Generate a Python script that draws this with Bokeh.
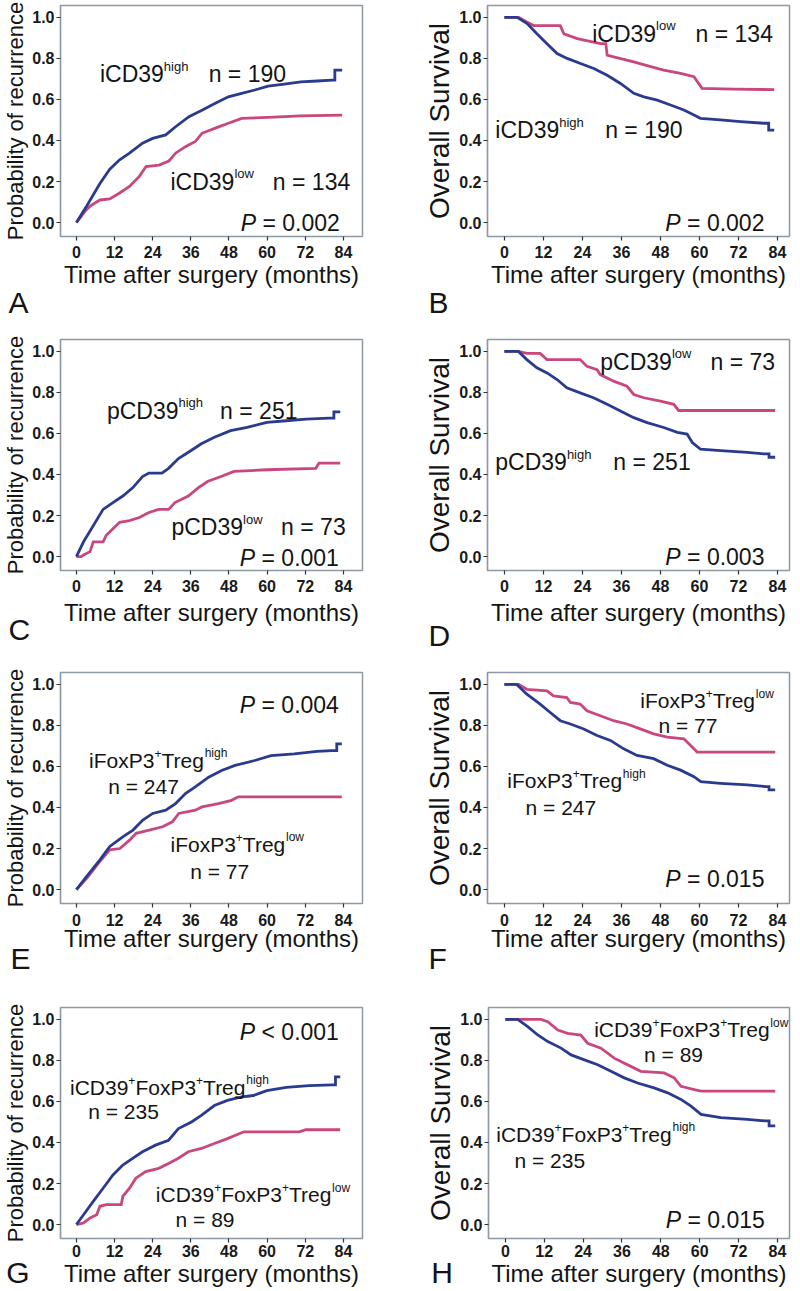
from bokeh.plotting import figure
from bokeh.models import Label, Title, FixedTicker, NumeralTickFormatter, Range1d
from bokeh.layouts import column, row
from bokeh.embed import file_html
from bokeh.resources import INLINE

FONT = "Liberation Sans"
BLUE = "#2a3b8f"
PINK = "#c9477e"

XTICKS = [0, 12, 24, 36, 48, 60, 72, 84]
YTICKS = [0.0, 0.2, 0.4, 0.6, 0.8, 1.0]
XLABEL = "Time after surgery (months)"
YLABEL_REC = "Probability of recurrence"
YLABEL_OS = "Overall Survival"

# ---- Panel A: recurrence, iCD39 ----
A_high_t = [0, 3.2, 7.4, 10.5, 13.6, 16.7, 20.8, 24, 28.1, 31.2, 35.4, 39.5, 43.7, 47.8, 52, 56.1, 60.3, 65.4, 70.6, 75.8, 80.5, 81.3, 81.3, 83.6]
A_high_v = [0, 0.08, 0.19, 0.26, 0.306, 0.338, 0.387, 0.41, 0.427, 0.467, 0.516, 0.548, 0.581, 0.613, 0.63, 0.646, 0.665, 0.675, 0.686, 0.69, 0.694, 0.694, 0.743, 0.743]
A_low_t = [0, 1.5, 3, 4.3, 7.4, 10.5, 13.6, 16.7, 19.8, 21.9, 26, 29.1, 31.2, 34.3, 37.4, 39.5, 43.7, 47.8, 52, 60.3, 70.6, 83.6]
A_low_v = [0, 0.03, 0.06, 0.08, 0.11, 0.115, 0.144, 0.176, 0.225, 0.273, 0.28, 0.30, 0.338, 0.37, 0.395, 0.435, 0.46, 0.484, 0.508, 0.513, 0.52, 0.524]

# ---- Panel B: overall survival, iCD39 ----
B_high_t = [0, 3.9, 7, 10, 13.1, 16.2, 19.3, 23.4, 27.5, 31.6, 35.7, 39.8, 42.9, 47, 51.1, 55.2, 58.3, 60.3, 66.5, 72.6, 79.8, 81.3, 81.3, 83]
B_high_v = [1, 1, 0.97, 0.92, 0.872, 0.824, 0.80, 0.775, 0.751, 0.718, 0.678, 0.63, 0.613, 0.597, 0.573, 0.549, 0.524, 0.508, 0.50, 0.492, 0.484, 0.484, 0.451, 0.451]
B_low_t = [0, 4.4, 7, 9, 17.2, 18.3, 22.4, 29.5, 31.2, 31.6, 33.6, 39.8, 45, 49, 54.2, 58.3, 60.8, 70.5, 83]
B_low_v = [1, 1, 0.977, 0.96, 0.96, 0.92, 0.897, 0.872, 0.872, 0.816, 0.808, 0.783, 0.76, 0.743, 0.727, 0.711, 0.654, 0.65, 0.648]

# ---- Panel C: recurrence, pCD39 ----
C_high_t = [0, 2.25, 5.3, 8.4, 11.5, 14.6, 17.7, 20.8, 22.8, 26.9, 29, 32.1, 36.2, 39.3, 43.4, 48.5, 53.7, 59.9, 66, 72.2, 79.4, 81, 81, 83]
C_high_v = [0, 0.072, 0.15, 0.23, 0.263, 0.295, 0.335, 0.39, 0.407, 0.407, 0.43, 0.478, 0.518, 0.55, 0.582, 0.614, 0.63, 0.654, 0.662, 0.67, 0.675, 0.675, 0.705, 0.705]
C_low_t = [0, 1.5, 2.25, 4.3, 5.3, 8.4, 9.4, 11.5, 13.6, 16.7, 19.8, 22.8, 25.9, 29, 31, 35.2, 38.3, 41.4, 45.5, 49.6, 59.9, 75.3, 76.3, 83]
C_low_v = [0, 0, 0.008, 0.024, 0.072, 0.072, 0.104, 0.136, 0.167, 0.175, 0.19, 0.215, 0.23, 0.23, 0.263, 0.295, 0.335, 0.367, 0.39, 0.415, 0.423, 0.43, 0.455, 0.455]

# ---- Panel D: overall survival, pCD39 ----
D_high_t = [0, 4.3, 6.9, 10, 13.1, 16.2, 19.2, 23.3, 27.4, 31.6, 35.7, 39.8, 43.9, 49, 53.2, 56.2, 57.8, 60.3, 66.5, 74.7, 79.9, 81.4, 81.4, 83.3]
D_high_v = [1, 1, 0.96, 0.92, 0.895, 0.863, 0.823, 0.798, 0.774, 0.742, 0.71, 0.677, 0.653, 0.629, 0.605, 0.597, 0.556, 0.524, 0.516, 0.508, 0.50, 0.50, 0.484, 0.484]
D_low_t = [0, 4.3, 6.9, 11, 13.1, 23.3, 25.4, 28.5, 29.5, 33.6, 37.7, 39.8, 42.9, 48, 52.1, 53.6, 83.3]
D_low_v = [1, 1, 0.99, 0.99, 0.96, 0.96, 0.927, 0.911, 0.887, 0.855, 0.83, 0.79, 0.774, 0.758, 0.742, 0.712, 0.712]

# ---- Panel E: recurrence, iFoxP3+Treg ----
E_high_t = [0, 3.3, 7.4, 10.5, 14.7, 17.8, 20.9, 24, 28.1, 31.2, 34.3, 37.4, 41.6, 45.7, 49.9, 56.1, 61.2, 68.5, 75.7, 80.4, 81.9, 81.9, 83.5]
E_high_v = [0, 0.065, 0.145, 0.21, 0.258, 0.29, 0.339, 0.371, 0.387, 0.419, 0.468, 0.50, 0.548, 0.58, 0.605, 0.629, 0.653, 0.661, 0.674, 0.677, 0.677, 0.71, 0.71]
E_low_t = [0, 3.3, 7.4, 10.5, 13.7, 16.8, 18.8, 22.9, 27.1, 30.2, 32.2, 37.4, 39.5, 44.7, 48.8, 50.9, 83.5]
E_low_v = [0, 0.056, 0.137, 0.194, 0.20, 0.242, 0.274, 0.29, 0.306, 0.33, 0.371, 0.387, 0.403, 0.419, 0.435, 0.452, 0.452]

# ---- Panel F: overall survival, iFoxP3+Treg ----
F_high_t = [0, 3.8, 6.9, 11, 14.1, 17.2, 20.3, 24.4, 28.5, 32.6, 36.7, 40.8, 45.9, 50.1, 54.2, 58.3, 60.4, 66.5, 74.7, 80.4, 81.4, 81.4, 83.3]
F_high_v = [1, 1, 0.952, 0.904, 0.863, 0.823, 0.807, 0.783, 0.751, 0.727, 0.686, 0.654, 0.638, 0.606, 0.582, 0.55, 0.526, 0.518, 0.51, 0.502, 0.502, 0.486, 0.486]
F_low_t = [0, 4.4, 6.9, 13.1, 15.1, 19.2, 20.3, 23.3, 25.4, 29.5, 33.6, 37.7, 41.8, 45.9, 50.1, 55.2, 57.2, 59.3, 83.3]
F_low_v = [1, 1, 0.976, 0.968, 0.944, 0.936, 0.912, 0.904, 0.871, 0.847, 0.823, 0.807, 0.783, 0.759, 0.743, 0.735, 0.703, 0.67, 0.67]

# ---- Panel G: recurrence, iCD39+FoxP3+Treg ----
G_high_t = [0, 2.25, 5.3, 8.4, 11.5, 14.6, 17.7, 20.8, 24.9, 29, 32.1, 36.2, 39.3, 43.4, 47.5, 51.6, 55.7, 59.9, 66, 73.2, 80.4, 81.5, 81.5, 83]
G_high_v = [0, 0.048, 0.113, 0.177, 0.242, 0.29, 0.323, 0.355, 0.387, 0.411, 0.468, 0.50, 0.532, 0.58, 0.605, 0.621, 0.629, 0.653, 0.669, 0.677, 0.681, 0.681, 0.72, 0.72]
G_low_t = [0, 2.25, 4.3, 6.4, 7.4, 9.4, 14.1, 14.6, 16.7, 18.7, 21.8, 25.9, 29, 32.1, 35.2, 39.3, 43.4, 47.5, 52.7, 70.1, 72.2, 83]
G_low_v = [0, 0.008, 0.032, 0.048, 0.089, 0.097, 0.097, 0.137, 0.177, 0.226, 0.258, 0.274, 0.298, 0.323, 0.355, 0.371, 0.395, 0.419, 0.452, 0.452, 0.462, 0.462]

# ---- Panel H: overall survival, iCD39+FoxP3+Treg ----
H_high_t = [0, 3.8, 6.9, 10, 13.1, 17.2, 20.3, 24.4, 28.5, 32.6, 36.7, 40.8, 45.9, 50.1, 54.2, 57.3, 60.4, 66.5, 74.7, 80.4, 81.4, 81.4, 83.3]
H_high_v = [1, 1, 0.965, 0.924, 0.892, 0.86, 0.827, 0.803, 0.779, 0.747, 0.715, 0.69, 0.666, 0.642, 0.61, 0.577, 0.537, 0.521, 0.513, 0.505, 0.505, 0.481, 0.481]
H_low_t = [0, 11, 13.1, 16.2, 19.2, 23.3, 25.4, 29.5, 33.6, 38.7, 41.8, 49, 52.1, 54.2, 58.3, 60.4, 83.3]
H_low_v = [1, 1, 0.989, 0.948, 0.932, 0.924, 0.884, 0.86, 0.811, 0.771, 0.747, 0.739, 0.715, 0.674, 0.658, 0.65, 0.65]

# ---- annotation texts: (x, y, parts, size); kinds: n normal, i italic, s superscript ----
A_labels = [
    (7.4, 0.723, [("iCD39", "n"), ("high", "s")], 23),
    (41.6, 0.723, [("n = 190", "n")], 23),
    (29.6, 0.20, [("iCD39", "n"), ("low", "s")], 23),
    (61.8, 0.20, [("n = 134", "n")], 23),
    (51.7, 0.0, [("P", "i"), (" = 0.002", "n")], 23),
]
B_labels = [
    (27.0, 0.92, [("iCD39", "n"), ("low", "s")], 23),
    (58.8, 0.92, [("n = 134", "n")], 23),
    (-2.8, 0.45, [("iCD39", "n"), ("high", "s")], 23),
    (31.0, 0.45, [("n = 190", "n")], 23),
    (49.5, 0.0, [("P", "i"), (" = 0.002", "n")], 23),
]
C_labels = [
    (9.6, 0.71, [("pCD39", "n"), ("high", "s")], 23),
    (45.2, 0.71, [("n = 251", "n")], 23),
    (29.9, 0.142, [("pCD39", "n"), ("low", "s")], 23),
    (64.4, 0.142, [("n = 73", "n")], 23),
    (51.4, -0.005, [("P", "i"), (" = 0.001", "n")], 23),
]
D_labels = [
    (29.5, 0.95, [("pCD39", "n"), ("low", "s")], 23),
    (63.4, 0.95, [("n = 73", "n")], 23),
    (-2.8, 0.46, [("pCD39", "n"), ("high", "s")], 23),
    (33.5, 0.46, [("n = 251", "n")], 23),
    (49.5, 0.0, [("P", "i"), (" = 0.003", "n")], 23),
]
E_labels = [
    (51.4, 0.90, [("P", "i"), (" = 0.004", "n")], 23),
    (4.0, 0.63, [("iFoxP3", "n"), ("+", "s"), ("Treg", "n"), ("high", "s")], 21),
    (10.0, 0.50, [("n = 247", "n")], 21),
    (29.6, 0.22, [("iFoxP3", "n"), ("+", "s"), ("Treg", "n"), ("low", "s")], 21),
    (35.8, 0.087, [("n = 77", "n")], 21),
]
F_labels = [
    (41.8, 0.92, [("iFoxP3", "n"), ("+", "s"), ("Treg", "n"), ("low", "s")], 21),
    (47.4, 0.80, [("n = 77", "n")], 21),
    (0.9, 0.53, [("iFoxP3", "n"), ("+", "s"), ("Treg", "n"), ("high", "s")], 21),
    (6.5, 0.40, [("n = 247", "n")], 21),
    (49.5, 0.05, [("P", "i"), (" = 0.015", "n")], 23),
]
G_labels = [
    (51.4, 0.94, [("P", "i"), (" < 0.001", "n")], 23),
    (-2.0, 0.67, [("iCD39", "n"), ("+", "s"), ("FoxP3", "n"), ("+", "s"), ("Treg", "n"), ("high", "s")], 21),
    (3.7, 0.55, [("n = 235", "n")], 21),
    (25.0, 0.145, [("iCD39", "n"), ("+", "s"), ("FoxP3", "n"), ("+", "s"), ("Treg", "n"), ("low", "s")], 21),
    (31.2, 0.025, [("n = 89", "n")], 21),
]
H_labels = [
    (27.4, 0.95, [("iCD39", "n"), ("+", "s"), ("FoxP3", "n"), ("+", "s"), ("Treg", "n"), ("low", "s")], 21),
    (42.8, 0.83, [("n = 89", "n")], 21),
    (-2.8, 0.44, [("iCD39", "n"), ("+", "s"), ("FoxP3", "n"), ("+", "s"), ("Treg", "n"), ("high", "s")], 21),
    (2.8, 0.31, [("n = 235", "n")], 21),
    (49.5, 0.02, [("P", "i"), (" = 0.015", "n")], 23),
]

# Arial / Liberation Sans advance widths (per 1000 em) for placing superscripts
W = {"i": 222, "C": 722, "D": 722, "p": 556, "F": 611, "o": 556, "x": 500, "P": 667,
     "T": 611, "r": 333, "e": 556, "g": 556, " ": 278, "n": 556, "=": 584, "h": 556,
     "l": 222, "w": 722, "+": 584, "<": 584, ".": 278}
for d in "0123456789":
    W[d] = 556

ROW_H = [334, 333, 333, 290]
ROW_BT = [5, 5, 5, 7]
ROW_BB = [98, 97, 97, 52]
ROW_AX_STANDOFF = [0, 4, -4, 0]
ROW_LBL_STANDOFF = [5, 5, 6, 2]


def width_px(txt, fs):
    return sum(W.get(c, 556) for c in txt) * fs / 1000.0


def add_text(p, x, y, parts, size):
    off = 0.0
    for txt, kind in parts:
        sup = kind == "s"
        fs = round(size * 0.57) if sup else size
        stripped = txt.lstrip(" ")
        off += width_px(txt[:len(txt) - len(stripped)], fs)
        p.add_layout(Label(
            x=x, y=y, x_offset=off, y_offset=round(size * 0.33) if sup else 0,
            text=stripped, text_font=FONT, text_font_size=f"{fs}px",
            text_font_style="italic" if kind == "i" else "normal",
            text_color="#141414", text_baseline="alphabetic", text_align="left"))
        off += width_px(stripped, fs)


def panel(letter, side, rowi, kind, ht, hv, lt, lv, labels, letter_spec):
    left = side == "L"
    p = figure(width=400, height=ROW_H[rowi], output_backend="svg", toolbar_location=None,
               x_range=Range1d(-5, 90) if left else Range1d(-5.2, 87.7),
               y_range=Range1d(-0.068, 1.058),
               min_border_left=57 if left else 87, min_border_right=38 if left else 11,
               min_border_top=ROW_BT[rowi], min_border_bottom=ROW_BB[rowi])
    p.grid.visible = False
    p.outline_line_color = "#8d99a3"
    p.outline_line_width = 1.5
    p.background_fill_color = "white"
    p.border_fill_color = "white"

    for ax in (p.xaxis[0], p.yaxis[0]):
        ax.axis_line_color = "#8d99a3"
        ax.axis_line_width = 1.2
        ax.major_tick_line_color = "#333333"
        ax.major_tick_line_width = 1.2
        ax.major_tick_in = 0
        ax.major_tick_out = 4
        ax.minor_tick_line_color = None
        ax.major_label_text_font = FONT
        ax.major_label_text_font_size = "16px"
        ax.major_label_text_font_style = "bold"
        ax.major_label_text_color = "#1a1a1a"
        ax.major_label_standoff = 2
        ax.axis_label_text_font = FONT
        ax.axis_label_text_font_style = "normal"
        ax.axis_label_text_color = "#141414"

    p.xaxis.ticker = FixedTicker(ticks=XTICKS)
    p.yaxis.ticker = FixedTicker(ticks=YTICKS)
    p.yaxis.formatter = NumeralTickFormatter(format="0.0")
    p.xaxis.axis_label = XLABEL
    p.xaxis.axis_label_text_font_size = "24px"
    p.xaxis.axis_label_standoff = ROW_AX_STANDOFF[rowi]
    p.xaxis.major_label_standoff = ROW_LBL_STANDOFF[rowi]
    if kind == "rec":
        p.yaxis.axis_label = YLABEL_REC
        p.yaxis.axis_label_text_font_size = "22px"
        p.yaxis.axis_label_standoff = 1
    else:
        p.yaxis.axis_label = YLABEL_OS
        p.yaxis.axis_label_text_font_size = "28px"
        p.yaxis.axis_label_standoff = 1

    p.line(lt, lv, color=PINK, line_width=2.8, line_join="miter")
    p.line(ht, hv, color=BLUE, line_width=2.8, line_join="miter")

    for (x, y, parts, size) in labels:
        add_text(p, x, y, parts, size)

    if letter_spec[0] == "title":
        p.add_layout(Title(text=letter, align="left", offset=letter_spec[1], standoff=letter_spec[2],
                           vertical_align="top", text_font=FONT, text_font_size="30px",
                           text_font_style="normal", text_color="#141414"), "below")
    else:
        # letter beside the axis title: a label held in an unused side panel, so it is not clipped
        p.add_layout(Label(x=letter_spec[1], y=letter_spec[2], text=letter, text_font=FONT,
                           text_font_size="30px", text_color="#141414",
                           text_baseline="middle", text_align="left"),
                     "right" if left else "left")
    return p


pA = panel("A", "L", 0, "rec", A_high_t, A_high_v, A_low_t, A_low_v, A_labels, ("title", -52, -9))
pB = panel("B", "R", 0, "os", B_high_t, B_high_v, B_low_t, B_low_v, B_labels, ("title", -59, -9))
pC = panel("C", "L", 1, "rec", C_high_t, C_high_v, C_low_t, C_low_v, C_labels, ("title", -52, -31))
pD = panel("D", "R", 1, "os", D_high_t, D_high_v, D_low_t, D_low_v, D_labels, ("title", -59, -19))
pE = panel("E", "L", 2, "rec", E_high_t, E_high_v, E_low_t, E_low_v, E_labels, ("title", -50, -25))
pF = panel("F", "R", 2, "os", F_high_t, F_high_v, F_low_t, F_low_v, F_labels, ("title", -59, -25))
pG = panel("G", "L", 3, "rec", G_high_t, G_high_v, G_low_t, G_low_v, G_labels, ("label", -22.1, -0.235))
pH = panel("H", "R", 3, "os", H_high_t, H_high_v, H_low_t, H_low_v, H_labels, ("label", -22.9, -0.235))

layout = column(row(pA, pB), row(pC, pD), row(pE, pF), row(pG, pH))

with open("out.html", "w") as f:
    f.write(file_html(layout, INLINE))
